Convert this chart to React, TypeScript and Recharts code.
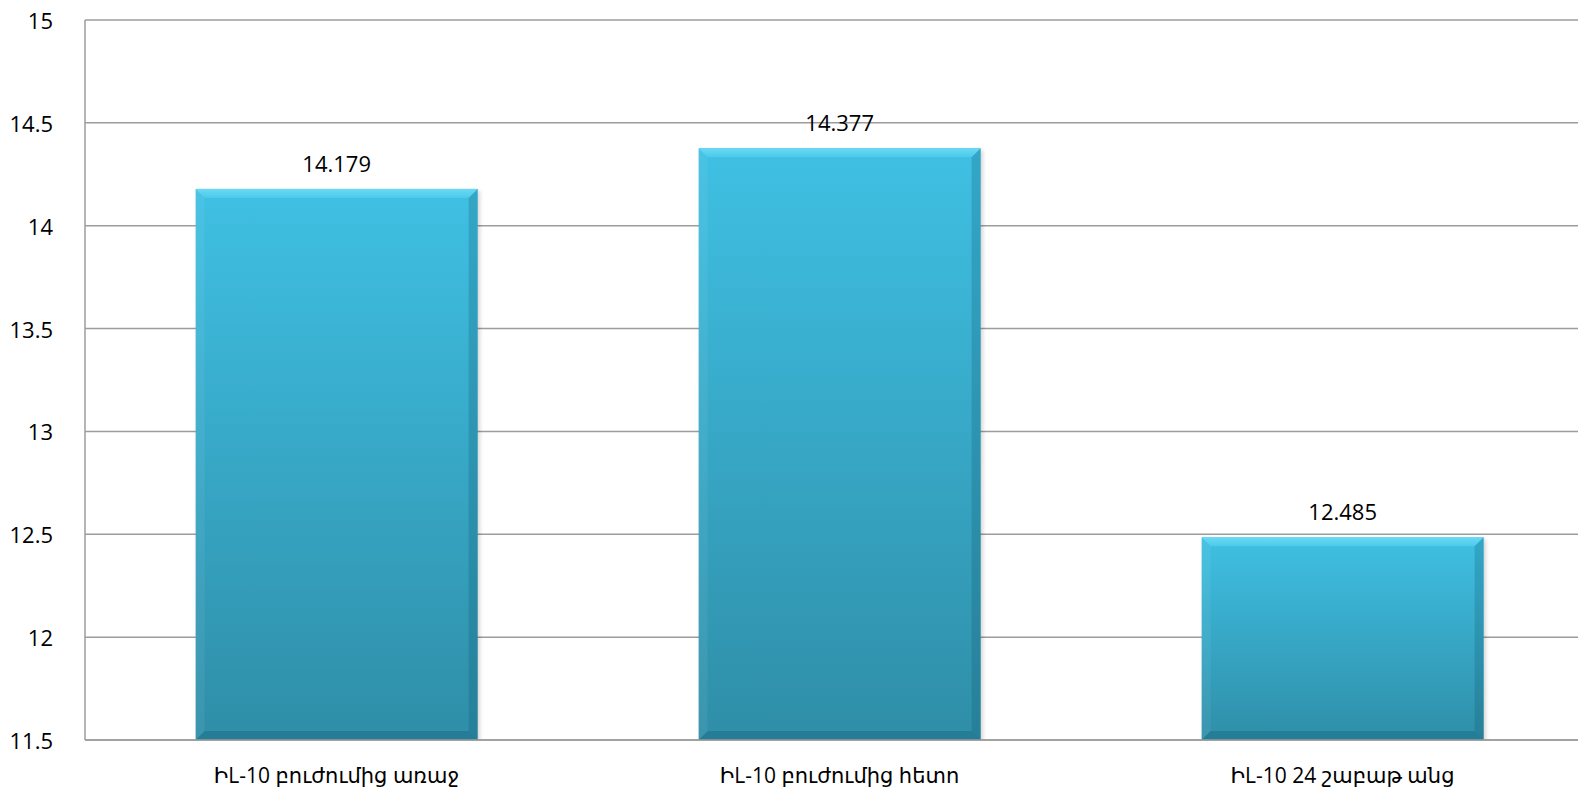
import { BarChart, Bar, XAxis, YAxis, CartesianGrid, LabelList } from 'recharts';

const categories = ['ԻL-10 բուժումից առաջ', 'ԻL-10 բուժումից հետո', 'ԻL-10 24 շաբաթ անց'];
const values = [14.179, 14.377, 12.485];
const yTicks = [11.5, 12, 12.5, 13, 13.5, 14, 14.5, 15];

const data = categories.map((name, i) => ({ name, value: values[i] }));

const FONT = '"Open Sans", "DejaVu Sans", sans-serif';
const BEVEL = 9;

// beveled bar: gradient body plus four edge facets
function BevelBar(props: any) {
  const { x, y, width: w, height: h } = props;
  if (!h || h <= 0) return null;
  const b = Math.min(BEVEL, w / 2, h / 2);
  return (
    <g>
      <rect x={x + 2} y={y + 2} width={w} height={h} fill="#000" opacity={0.18} filter="url(#barShadow)" />
      <rect x={x} y={y} width={w} height={h} fill="url(#barFill)" />
      <polygon
        points={`${x},${y} ${x + w},${y} ${x + w - b},${y + b} ${x + b},${y + b}`}
        fill="url(#topFacet)"
      />
      <polygon
        points={`${x},${y} ${x + b},${y + b} ${x + b},${y + h - b} ${x},${y + h}`}
        fill="#ffffff"
        opacity={0.06}
      />
      <polygon
        points={`${x + w},${y} ${x + w},${y + h} ${x + w - b},${y + h - b} ${x + w - b},${y + b}`}
        fill="#0b4f63"
        opacity={0.22}
      />
      <polygon
        points={`${x},${y + h} ${x + w},${y + h} ${x + w - b},${y + h - b} ${x + b},${y + h - b}`}
        fill="#0b4f63"
        opacity={0.28}
      />
    </g>
  );
}

function ValueLabel(props: any) {
  const { x, y, width, value } = props;
  return (
    <text
      x={x + width / 2}
      y={y - 26}
      textAnchor="middle"
      dominantBaseline="central"
      fontFamily={FONT}
      fontSize={22}
      fill="#000"
    >
      {value}
    </text>
  );
}

function CategoryTick(props: any) {
  const { x, y, payload } = props;
  return (
    <text x={x} y={y + 27} textAnchor="middle" dominantBaseline="central" fontFamily={FONT} fontSize={21} fill="#000">
      {payload.value}
    </text>
  );
}

function ValueTick(props: any) {
  const { x, y, payload } = props;
  return (
    <text x={x - 24} y={y} textAnchor="end" dominantBaseline="central" fontFamily={FONT} fontSize={22} fill="#000">
      {payload.value}
    </text>
  );
}

export default function App() {
  return (
    <div
      style={{
        position: 'fixed',
        left: 0,
        top: 0,
        width: 1578,
        height: 791,
        overflow: 'hidden',
        background: '#fff',
      }}
    >
      <BarChart
        width={1594}
        height={791}
        data={data}
        margin={{ top: 20, right: 0, bottom: 0, left: 0 }}
        barCategoryGap="22%"
      >
        <defs>
          <linearGradient id="barFill" x1="0" y1="0" x2="0" y2="1">
            <stop offset="0%" stopColor="#3fc0e3" />
            <stop offset="100%" stopColor="#2f8ea8" />
          </linearGradient>
          <linearGradient id="topFacet" x1="0" y1="0" x2="0" y2="1">
            <stop offset="0%" stopColor="#6ad9f5" />
            <stop offset="100%" stopColor="#4ccaea" />
          </linearGradient>
          <filter id="barShadow" x="-5%" y="-5%" width="110%" height="110%">
            <feGaussianBlur stdDeviation="2" />
          </filter>
        </defs>
        <CartesianGrid vertical={false} stroke="#9c9c9c" strokeWidth={1.5} />
        <XAxis
          dataKey="name"
          height={51}
          tickLine={false}
          axisLine={{ stroke: '#9c9c9c', strokeWidth: 1.5 }}
          tick={<CategoryTick />}
          interval={0}
        />
        <YAxis
          width={85}
          domain={[11.5, 15]}
          ticks={yTicks}
          allowDataOverflow
          tickLine={false}
          axisLine={{ stroke: '#9c9c9c', strokeWidth: 1.5 }}
          tick={<ValueTick />}
        />
        <Bar dataKey="value" shape={<BevelBar />} isAnimationActive={false}>
          <LabelList dataKey="value" content={<ValueLabel />} />
        </Bar>
      </BarChart>
    </div>
  );
}
